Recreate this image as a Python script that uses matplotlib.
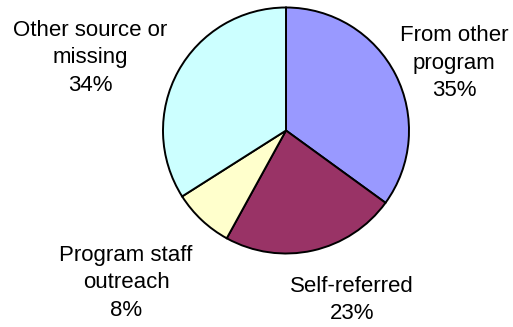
import matplotlib
matplotlib.use("Agg")
import matplotlib.pyplot as plt

# Referral sources (percent of participants)
categories = ["From other\nprogram", "Self-referred", "Program staff\noutreach", "Other source or\nmissing"]
values = [35, 23, 8, 34]
colors = ["#9999FF", "#993366", "#FFFFCC", "#CCFFFF"]

W, H = 513, 327
fig = plt.figure(figsize=(W / 100, H / 100), dpi=100)
ax = fig.add_axes([0, 0, 1, 1])
ax.set_xlim(0, W)
ax.set_ylim(0, H)
ax.axis("off")

ax.pie(values, colors=colors, startangle=90, counterclock=False,
       center=(286, H - 130.5), radius=123,
       wedgeprops=dict(edgecolor="black", linewidth=1.4))
ax.set_xlim(0, W)
ax.set_ylim(0, H)
ax.set_aspect("equal")

# label anchor points (x, y of block centre)
label_pos = [(454, H - 63), (352, H - 300), (126, H - 283), (90, H - 58)]
for cat, v, (x, y) in zip(categories, values, label_pos):
    ax.text(x, y, f"{cat}\n{v}%", ha="center", va="center",
            fontsize=16, family="Liberation Sans", linespacing=1.43)

fig.savefig("out.png", dpi=100)
